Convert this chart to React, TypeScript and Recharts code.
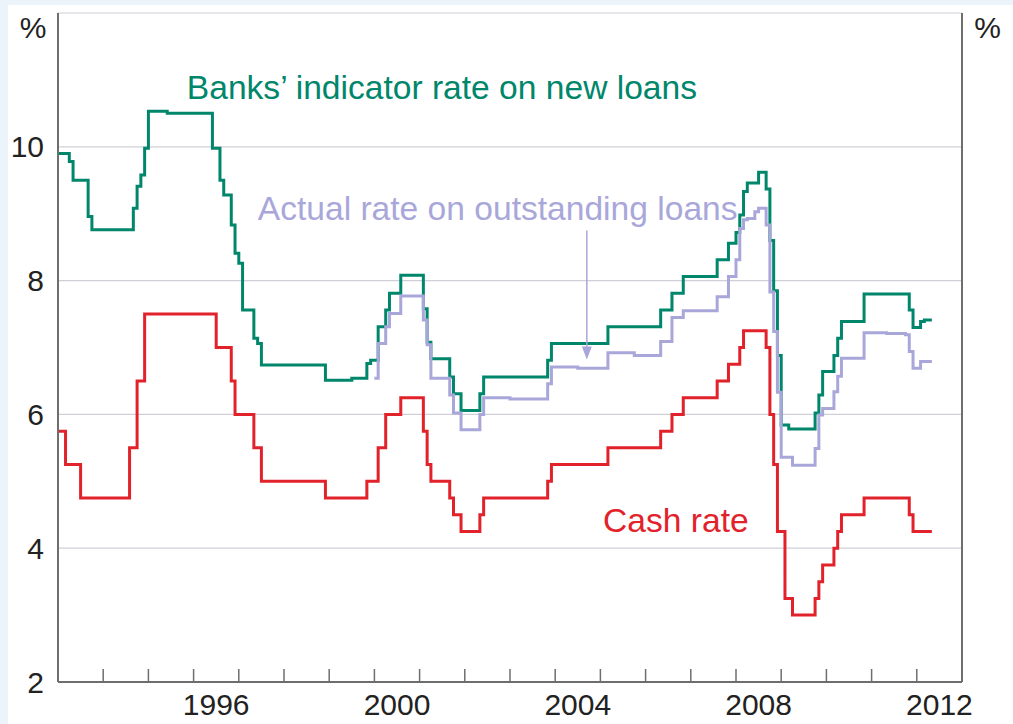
import React from "react";
import {
  LineChart,
  Line,
  XAxis,
  YAxis,
  CartesianGrid,
  ReferenceDot,
  ReferenceLine,
} from "recharts";

// cash rate target, month in which each new level first shows
const cashMonths = [
  "1993-01", "1993-03", "1993-07", "1994-08", "1994-10", "1994-12", "1996-07",
  "1996-11", "1996-12", "1997-05", "1997-07", "1998-12", "1999-11", "2000-02",
  "2000-04", "2000-08", "2001-02", "2001-03", "2001-04", "2001-09", "2001-10",
  "2001-12", "2002-05", "2002-06", "2003-11", "2003-12", "2005-03", "2006-05",
  "2006-08", "2006-11", "2007-08", "2007-11", "2008-02", "2008-03", "2008-09",
  "2008-10", "2008-11", "2008-12", "2009-02", "2009-04", "2009-10", "2009-11",
  "2009-12", "2010-03", "2010-04", "2010-05", "2010-11", "2011-11", "2011-12",
];
const cashRate = [
  5.75, 5.25, 4.75, 5.5, 6.5, 7.5, 7.0,
  6.5, 6.0, 5.5, 5.0, 4.75, 5.0, 5.5,
  6.0, 6.25, 5.75, 5.25, 5.0, 4.75, 4.5,
  4.25, 4.5, 4.75, 5.0, 5.25, 5.5, 5.75,
  6.0, 6.25, 6.5, 6.75, 7.0, 7.25, 7.0,
  6.0, 5.25, 4.25, 3.25, 3.0, 3.25, 3.5,
  3.75, 4.0, 4.25, 4.5, 4.75, 4.5, 4.25,
];

// banks' indicator (standard variable) rate on new loans
const indicatorMonths = [
  "1993-01", "1993-04", "1993-05", "1993-09", "1993-10", "1994-09", "1994-10",
  "1994-11", "1994-12", "1995-01", "1995-06", "1996-06", "1996-08", "1996-09",
  "1996-11", "1996-12", "1997-01", "1997-02", "1997-05", "1997-06", "1997-07",
  "1998-12", "1999-07", "1999-11", "1999-12", "2000-02", "2000-04", "2000-05",
  "2000-08", "2001-02", "2001-03", "2001-04", "2001-09", "2001-10", "2001-12",
  "2002-05", "2002-06", "2003-11", "2003-12", "2005-03", "2006-05", "2006-08",
  "2006-11", "2007-08", "2007-11", "2008-01", "2008-02", "2008-03", "2008-04",
  "2008-07", "2008-09", "2008-10", "2008-11", "2008-12", "2009-01", "2009-03",
  "2009-10", "2009-11", "2009-12", "2010-03", "2010-04", "2010-05", "2010-11",
  "2011-11", "2011-12", "2012-02", "2012-03",
];
const indicatorRate = [
  9.9, 9.78, 9.5, 8.96, 8.76, 9.08, 9.41,
  9.58, 9.98, 10.53, 10.5, 9.98, 9.5, 9.28,
  8.83, 8.41, 8.26, 7.56, 7.14, 7.06, 6.74,
  6.51, 6.54, 6.76, 6.81, 7.31, 7.56, 7.81,
  8.08, 7.58, 7.08, 6.83, 6.56, 6.31, 6.06,
  6.31, 6.56, 6.81, 7.06, 7.31, 7.56, 7.81,
  8.06, 8.31, 8.56, 8.72, 8.98, 9.33, 9.46,
  9.62, 9.37, 8.6, 7.85, 6.88, 5.84, 5.78,
  6.02, 6.29, 6.64, 6.88, 7.14, 7.39, 7.8,
  7.56, 7.3, 7.39, 7.41,
];

// actual average rate on outstanding loans
const actualMonths = [
  "2000-01", "2000-02", "2000-04", "2000-05", "2000-08", "2001-02", "2001-03",
  "2001-04", "2001-09", "2001-10", "2001-12", "2002-05", "2002-06", "2003-01",
  "2003-11", "2003-12", "2004-07", "2005-03", "2005-10", "2006-05", "2006-08",
  "2006-11", "2007-08", "2007-11", "2008-01", "2008-02", "2008-03", "2008-04",
  "2008-06", "2008-07", "2008-09", "2008-10", "2008-11", "2008-12", "2009-01",
  "2009-04", "2009-10", "2009-11", "2009-12", "2010-03", "2010-04", "2010-05",
  "2010-11", "2011-05", "2011-10", "2011-11", "2011-12", "2012-02",
];
const actualRate = [
  6.54, 7.06, 7.31, 7.51, 7.77, 7.41, 7.04,
  6.54, 6.29, 6.02, 5.77, 6.0, 6.25, 6.23,
  6.46, 6.71, 6.69, 6.92, 6.88, 7.09, 7.45,
  7.55, 7.76, 8.06, 8.31, 8.78, 8.91, 8.93,
  9.03, 9.08, 8.83, 7.83, 7.24, 6.33, 5.36,
  5.24, 5.49, 5.99, 6.09, 6.34, 6.57, 6.84,
  7.22, 7.21, 7.19, 6.94, 6.69, 6.79,
];

const lastMonth = "2012-04";

const yearTicks = [
  1994, 1995, 1996, 1997, 1998, 1999, 2000, 2001, 2002, 2003,
  2004, 2005, 2006, 2007, 2008, 2009, 2010, 2011, 2012,
];
const labelYears = [1996, 2000, 2004, 2008, 2012];
const yTicks = [2, 4, 6, 8, 10];

const GREEN = "#00866B";
const RED = "#E2222B";
const LAVENDER = "#A9A7DA";
const AXIS = "#6E6E6E";
const GRID = "#CFCFD8";
const TEXT = "#222222";
const FONT = '"Liberation Sans", Arial, Helvetica, sans-serif';

const toYear = (m: string) => {
  const [y, mo] = m.split("-").map(Number);
  return y + (mo - 1) / 12;
};

// step data; the last level is held to the end of the final month
const buildSeries = (months: string[], values: number[]) => {
  const pts = months.map((m, i) => ({ date: toYear(m), rate: values[i] }));
  pts.push({ date: toYear(lastMonth) + 1 / 12, rate: values[values.length - 1] });
  return pts;
};

const cashData = buildSeries(cashMonths, cashRate);
const indicatorData = buildSeries(indicatorMonths, indicatorRate);
const actualData = buildSeries(actualMonths, actualRate);

// year marks on whole years, year labels centred on mid-year
const xTicks = [...yearTicks, ...labelYears.map((y) => y + 0.5)].sort((a, b) => a - b);

const YearTick = ({ x, y, payload }: any) => {
  const v = payload.value;
  if (Number.isInteger(v)) {
    return <line x1={x} x2={x} y1={y} y2={y - 13} stroke={AXIS} strokeWidth={1.5} />;
  }
  return (
    <text x={x} y={y + 33} textAnchor="middle" fontSize={30} fill={TEXT}>
      {Math.floor(v)}
    </text>
  );
};

const note = (text: string, color: string) => (p: any) => (
  <text x={p.cx} y={p.cy} fill={color} fontSize={33.6}>
    {text}
  </text>
);

const arrowHead = (p: any) => (
  <polygon
    points={`${p.cx},${p.cy} ${p.cx - 5},${p.cy - 13} ${p.cx + 5},${p.cy - 13}`}
    fill={LAVENDER}
  />
);

export default function App() {
  return (
    <div style={{ position: "fixed", inset: 0, background: "#EBF3FB" }}>
      <div
        style={{
          position: "absolute",
          left: 8,
          top: 5,
          width: 1005,
          height: 719,
          background: "#ffffff",
          fontFamily: FONT,
        }}
      >
        <LineChart width={1005} height={719} margin={{ top: 8, right: 0, bottom: 0, left: 0 }}>
          <CartesianGrid yAxisId="left" vertical={false} stroke={GRID} strokeWidth={1.2} />
          <XAxis
            dataKey="date"
            type="number"
            domain={[1993, 2013]}
            ticks={xTicks}
            interval={0}
            height={42}
            tickSize={0}
            tickMargin={0}
            tickLine={false}
            tick={YearTick}
            axisLine={{ stroke: AXIS, strokeWidth: 2 }}
            allowDataOverflow
          />
          <XAxis
            xAxisId="top"
            orientation="top"
            dataKey="date"
            type="number"
            domain={[1993, 2013]}
            height={0}
            tick={false}
            tickLine={false}
            axisLine={{ stroke: AXIS, strokeWidth: 2 }}
          />
          <YAxis
            yAxisId="left"
            domain={[2, 12]}
            ticks={yTicks}
            interval={0}
            width={50}
            tickLine={false}
            tickSize={0}
            tickMargin={14}
            tick={{ fontSize: 30, fill: TEXT }}
            axisLine={{ stroke: AXIS, strokeWidth: 2 }}
            label={{ value: "%", position: "insideTop", offset: 4, fontSize: 30, fill: TEXT }}
          />
          <YAxis
            yAxisId="right"
            orientation="right"
            domain={[2, 12]}
            ticks={yTicks}
            interval={0}
            width={51}
            tickLine={false}
            tickSize={0}
            tickMargin={12}
            tick={{ fontSize: 30, fill: TEXT }}
            axisLine={{ stroke: AXIS, strokeWidth: 2 }}
            label={{ value: "%", position: "insideTop", offset: 4, fontSize: 30, fill: TEXT }}
          />
          <Line
            yAxisId="left"
            data={indicatorData}
            dataKey="rate"
            type="stepAfter"
            stroke={GREEN}
            strokeWidth={3}
            dot={false}
            activeDot={false}
            isAnimationActive={false}
          />
          <Line
            yAxisId="left"
            data={cashData}
            dataKey="rate"
            type="stepAfter"
            stroke={RED}
            strokeWidth={3}
            dot={false}
            activeDot={false}
            isAnimationActive={false}
          />
          <Line
            yAxisId="left"
            data={actualData}
            dataKey="rate"
            type="stepAfter"
            stroke={LAVENDER}
            strokeWidth={3}
            dot={false}
            activeDot={false}
            isAnimationActive={false}
          />
          <ReferenceDot yAxisId="left" x={1995.85} y={10.71} r={0} ifOverflow="visible"
            shape={note("Banks\u2019 indicator rate on new loans", GREEN)} />
          <ReferenceDot yAxisId="left" x={1997.42} y={8.9} r={0} ifOverflow="visible"
            shape={note("Actual rate on outstanding loans", LAVENDER)} />
          <ReferenceDot yAxisId="left" x={2005.06} y={4.24} r={0} ifOverflow="visible"
            shape={note("Cash rate", RED)} />
          <ReferenceLine
            yAxisId="left"
            segment={[{ x: 2004.7, y: 8.75 }, { x: 2004.7, y: 7.0 }]}
            stroke={LAVENDER}
            strokeWidth={1.5}
          />
          <ReferenceDot yAxisId="left" x={2004.7} y={6.82} r={0} ifOverflow="visible" shape={arrowHead} />
        </LineChart>
      </div>
    </div>
  );
}
